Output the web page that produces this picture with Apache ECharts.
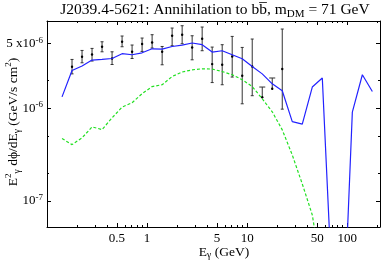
<!DOCTYPE html>
<html>
<head>
<meta charset="utf-8">
<script src="https://cdn.jsdelivr.net/npm/echarts@6/dist/echarts.min.js"></script>
<style>
html,body{margin:0;padding:0;background:#fff;}
#chart{width:382px;height:262px;}
</style>
</head>
<body>
<div id="chart"></div>
<script>
// ---- data ----
const energies = [0.1413,0.1778,0.2239,0.2818,0.3548,0.4467,0.5623,0.7079,0.8913,1.122,
  1.413,1.778,2.239,2.818,3.548,4.467,5.623,7.079,8.913,11.22,
  14.13,17.78,22.39,28.18,35.48,44.67,56.23,70.79,89.13,112.2,141.3,177.8];
// total model (blue), in 1e-6 GeV/s cm^2
const modelTotal = [1.33,2.57,2.87,3.33,3.38,3.46,3.90,3.80,3.99,4.41,
  4.38,4.67,4.84,5.09,4.88,4.06,4.20,3.80,3.44,2.84,
  2.36,1.84,1.55,0.719,0.674,1.70,2.13,0.01,0.002,0.91,2.31,1.52];
// dark-matter b-bbar component (green dashed), in 1e-6
const modelDM = [0.471,0.405,0.479,0.630,0.589,0.789,1.03,1.15,1.44,1.72,
  1.80,2.21,2.47,2.61,2.68,2.66,2.50,2.31,2.04,1.72,
  1.27,0.917,0.585,0.313,0.152,0.0702,0.015];
// observed points with error bars, in 1e-6
const obsEnergy = [0.1778,0.2239,0.2818,0.3548,0.4467,0.5623,0.7079,0.8913,1.122,1.413,
  1.778,2.239,2.818,3.548,4.467,5.623,7.079,8.913,11.22,14.13,17.78,22.39];
const obsValue = [2.82,3.61,3.83,4.64,3.46,5.25,4.09,4.96,5.16,4.10,
  6.10,6.26,4.56,5.66,3.01,2.96,3.64,2.25,2.84,1.32,1.63,2.66];
const obsLow = [2.36,3.11,3.25,4.09,2.98,4.64,3.46,4.13,4.49,2.96,
  4.76,5.00,3.35,4.20,1.90,1.80,2.18,1.12,1.37,1.29,1.59,0.98];
const obsHigh = [3.38,4.23,4.45,5.25,4.09,6.06,4.84,5.76,6.26,4.67,
  7.39,7.83,6.10,7.58,4.60,4.88,6.00,4.56,5.62,1.70,2.13,7.21];
const obsUpperLimitStyle = [0,0,0,0,0,0,0,0,0,0,0,0,0,0,0,0,0,0,0,1,1,0];
// axis ticks
const xMajor = [0.5,1,5,10,50,100];
const xMinor = [0.2,0.3,0.4,0.6,0.7,0.8,0.9,2,3,4,6,7,8,9,20,30,40,60,70,80,90,200];
const yMajor = [1e-7,1e-6,5e-6];
const yMinor = [2e-7,5e-7,2e-6];
const xRange = [0.1,212];
const yRange = [5.2e-8,8.81e-6];

const SCALE = 1e-6;
const FONT = '"Liberation Serif","Times New Roman",serif';

const chart = echarts.init(document.getElementById('chart'), null, {renderer:'canvas'});

function xAxisDef(pos, ticks, len, labels, line){
  return {
    type:'log', logBase:10, min:xRange[0], max:xRange[1], position:pos,
    axisLine:{show:line, onZero:false, lineStyle:{color:'#000', width:1}},
    axisTick:{show:true, inside:true, length:len, customValues:ticks, lineStyle:{color:'#000', width:1}},
    axisLabel:{show:labels, customValues:ticks, margin:5, color:'#000', fontFamily:FONT, fontSize:13,
      formatter:(v)=>{ return String(+v.toPrecision(3)); }},
    splitLine:{show:false}, minorTick:{show:false}, minorSplitLine:{show:false}
  };
}
function yAxisDef(pos, ticks, len, labels, line){
  return {
    type:'log', logBase:10, min:yRange[0], max:yRange[1], position:pos,
    axisLine:{show:line, onZero:false, lineStyle:{color:'#000', width:1}},
    axisTick:{show:true, inside:true, length:len, customValues:ticks, lineStyle:{color:'#000', width:1}},
    axisLabel:{show:labels, customValues:ticks, margin:4, color:'#000', fontFamily:FONT, fontSize:13,
      lineHeight:16,
      formatter:(v)=>{
        const e = Math.floor(Math.log10(v)+1e-9);
        const m = Math.round(v/Math.pow(10,e));
        const sup = '{sup|' + (e<0?'-':'') + Math.abs(e) + '}';
        return (m===1? '10' : m + ' x10') + sup;
      },
      rich:{sup:{fontSize:9, fontFamily:FONT, color:'#000', verticalAlign:'top', lineHeight:9}}
    },
    splitLine:{show:false}, minorTick:{show:false}, minorSplitLine:{show:false}
  };
}

const option = {
  animation:false,
  backgroundColor:'#fff',
  grid:{left:47, right:2, top:21, bottom:35, containLabel:false},
  xAxis:[
    xAxisDef('bottom', xMajor, 4, true, true),
    xAxisDef('bottom', xMinor, 2, false, false),
    xAxisDef('top', xMajor, 4, false, true),
    xAxisDef('top', xMinor, 2, false, false)
  ],
  yAxis:[
    yAxisDef('left', yMajor, 4, true, true),
    yAxisDef('left', yMinor, 2, false, false),
    yAxisDef('right', yMajor, 4, false, true),
    yAxisDef('right', yMinor, 2, false, false)
  ],
  series:[
    {
      type:'line', name:'total', xAxisIndex:0, yAxisIndex:0,
      data: energies.map((e,i)=>[e, modelTotal[i]*SCALE]),
      showSymbol:false, symbol:'none', clip:true,
      lineStyle:{color:'#2222ff', width:1.2}
    },
    {
      type:'line', name:'dm', xAxisIndex:0, yAxisIndex:0,
      data: modelDM.map((v,i)=>[energies[i], v*SCALE]),
      showSymbol:false, symbol:'none', clip:true,
      lineStyle:{color:'#22e022', width:1.2, type:[3,2]}
    },
    {
      type:'custom', name:'obs', xAxisIndex:0, yAxisIndex:0, clip:true,
      data: obsEnergy.map((e,i)=>[e, obsValue[i]*SCALE, obsLow[i]*SCALE, obsHigh[i]*SCALE, obsUpperLimitStyle[i]]),
      encode:{x:0, y:[1,2,3]},
      renderItem:(params, api)=>{
        const x = api.value(0);
        const pc = api.coord([x, api.value(1)]);
        const pl = api.coord([x, api.value(2)]);
        const ph = api.coord([x, api.value(3)]);
        const lim = api.value(4);
        const cap = lim ? 3 : 1.5;
        const st = {stroke:'#333', lineWidth:1};
        const children = [
          {type:'line', shape:{x1:pc[0], y1:ph[1], x2:pc[0], y2:pl[1]}, style:st},
          {type:'line', shape:{x1:pc[0]-cap, y1:ph[1], x2:pc[0]+cap, y2:ph[1]}, style:st},
          {type:'circle', shape:{cx:pc[0], cy:pc[1], r:1.2}, style:{fill:'#000'}}
        ];
        if(!lim){
          children.push({type:'line', shape:{x1:pc[0]-cap, y1:pl[1], x2:pc[0]+cap, y2:pl[1]}, style:st});
        }
        return {type:'group', children};
      }
    }
  ],
  graphic:[
    {type:'text', x:215, y:10, silent:true,
      style:{text:'J2039.4-5621: Annihilation to bb\u0305, m{sub|DM} = 71 GeV',
        fill:'#000', font:'15.5px '+FONT, align:'center', verticalAlign:'middle', lineHeight:19,
        rich:{sub:{fontSize:11, fontFamily:FONT, fill:'#000', verticalAlign:'bottom', lineHeight:14}}}},
    {type:'text', x:224, y:252, silent:true,
      style:{text:'E{sub|\u03b3} (GeV)', fill:'#000', font:'13.5px '+FONT, align:'center', verticalAlign:'middle', lineHeight:17,
        rich:{sub:{fontSize:9.5, fontFamily:FONT, fill:'#000', verticalAlign:'bottom', lineHeight:11}}}},
    {type:'text', x:13, y:122, rotation:Math.PI/2, silent:true,
      style:{text:'E{sup|2}{sub|\u03b3} d\u03d5/dE{sub|\u03b3} (GeV/s cm{sup|2})', fill:'#000', font:'13.5px '+FONT,
        align:'center', verticalAlign:'middle', lineHeight:18,
        rich:{
          sup:{fontSize:9, fontFamily:FONT, fill:'#000', verticalAlign:'top', lineHeight:9},
          sub:{fontSize:9.5, fontFamily:FONT, fill:'#000', verticalAlign:'bottom', lineHeight:11}
        }}}
  ]
};
chart.setOption(option);
</script>
</body>
</html>
